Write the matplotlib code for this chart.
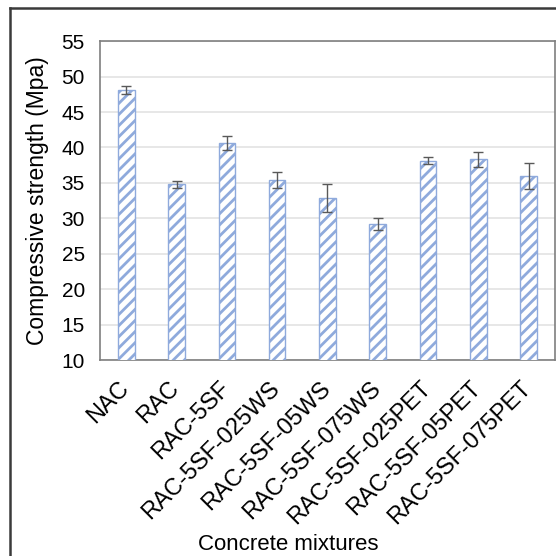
import numpy as np
import matplotlib
matplotlib.use("Agg")
import matplotlib.pyplot as plt
import matplotlib.transforms as transforms
from matplotlib.lines import Line2D

# Data
mixtures = ["NAC", "RAC", "RAC-5SF", "RAC-5SF-025WS", "RAC-5SF-05WS",
            "RAC-5SF-075WS", "RAC-5SF-025PET", "RAC-5SF-05PET", "RAC-5SF-075PET"]
strength = [48.1, 34.8, 40.6, 35.4, 32.9, 29.2, 38.1, 38.3, 36.0]
errors = [0.6, 0.5, 1.0, 1.1, 2.0, 0.8, 0.5, 1.0, 1.8]
yticks = [10, 15, 20, 25, 30, 35, 40, 45, 50, 55]

plt.rcParams["font.family"] = ["Liberation Sans", "DejaVu Sans"]
plt.rcParams["hatch.linewidth"] = 2.0
plt.rcParams["hatch.color"] = "#8faadc"

fig = plt.figure(figsize=(5.56, 5.56), dpi=100)
ax = fig.add_axes([0.180, 0.3525, 0.818, 0.5735])

x = np.arange(len(mixtures))
ax.bar(x, strength, width=0.33, color="white", edgecolor="#8faadc",
       hatch="///", linewidth=1.0, zorder=3)
ax.errorbar(x, strength, yerr=errors, fmt="none", ecolor="#595959",
            elinewidth=1.0, capsize=3.5, capthick=1.0, zorder=4)

ax.set_ylim(10, 55)
ax.set_xlim(-0.52, len(mixtures) - 0.48)
ax.set_yticks(yticks)
ax.set_xticks(x)
ax.set_xticklabels(mixtures, rotation=45, ha="right", rotation_mode="anchor",
                   fontsize=16.8)
ax.tick_params(axis="y", labelsize=15, length=0, pad=11)
ax.tick_params(axis="x", length=0, pad=12)
# nudge rotated labels left so their ends sit over the bars
shift = transforms.ScaledTranslation(-0.09, 0, fig.dpi_scale_trans)
for lab in ax.get_xticklabels():
    lab.set_transform(lab.get_transform() + shift)

ax.grid(True, axis="y", color="#e3e3e3", linewidth=1.2, zorder=0)
for sp in ax.spines.values():
    sp.set_color("#7f7f7f")
    sp.set_linewidth(1.2)

ax.set_ylabel("Compressive strength (Mpa)", fontsize=16.5, labelpad=9)
fig.text(0.518, 0.021, "Concrete mixtures", ha="center", va="center", fontsize=16)

# outer frame (top and left edges visible)
fig.add_artist(Line2D([10 / 556, 1.0], [1 - 8 / 556, 1 - 8 / 556],
                      transform=fig.transFigure, color="#3a3a3a", linewidth=1.8))
fig.add_artist(Line2D([10 / 556, 10 / 556], [0.0, 1 - 8 / 556],
                      transform=fig.transFigure, color="#3a3a3a", linewidth=1.8))

fig.savefig("out.png", dpi=100)
